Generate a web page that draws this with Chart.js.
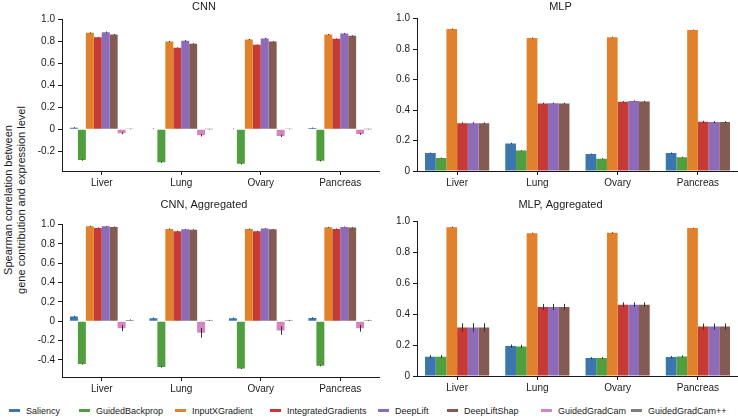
<!DOCTYPE html>
<html>
<head>
<meta charset="utf-8">
<script src="https://cdn.jsdelivr.net/npm/chart.js@4.4.1/dist/chart.umd.min.js"></script>
<style>
  body { margin: 0; background: #fff; font-family: "Liberation Sans", Arial, sans-serif; }
  #wrap { position: relative; width: 738px; height: 419px; overflow: hidden; background: #fff; }
  .panel { position: absolute; }
  #ylabel {
    position: absolute; left: 15px; top: 200px; width: 260px;
    transform: translate(-50%, -50%) rotate(-90deg);
    text-align: center; font-size: 11px; line-height: 13px; color: #1a1a1a;
  }
  .lg { position: absolute; top: 406px; font-size: 9px; color: #1a1a1a; white-space: nowrap; }
  .lg span { display: inline-block; width: 11px; height: 3px; vertical-align: middle; margin-right: 6px; position: relative; top: -1px; }
</style>
</head>
<body>
<div id="wrap">
  <div class="panel" style="left:28px;top:0;width:352px;height:196px"><canvas id="cnn"></canvas></div>
  <div class="panel" style="left:383px;top:0;width:355px;height:196px"><canvas id="mlp"></canvas></div>
  <div class="panel" style="left:28px;top:196px;width:352px;height:206px"><canvas id="cnnAgg"></canvas></div>
  <div class="panel" style="left:383px;top:196px;width:355px;height:205px"><canvas id="mlpAgg"></canvas></div>
  <div id="ylabel">Spearman correlation between<br>gene contribution and expression level</div>
  <div id="legend"></div>
</div>
<script>
const categories = ['Liver', 'Lung', 'Ovary', 'Pancreas'];
const methods = ['Saliency', 'GuidedBackprop', 'InputXGradient', 'IntegratedGradients',
                 'DeepLift', 'DeepLiftShap', 'GuidedGradCam', 'GuidedGradCam++'];
const colors = ['#3b76af', '#519e3e', '#e1812c', '#c43a35', '#8e6bb8', '#845b53', '#d684bd', '#7f7f7f'];

// one row per method, one column per tissue
const cnnValues = [
  [0.015, 0.005, 0.004, 0.012],
  [-0.28, -0.30, -0.315, -0.287],
  [0.879, 0.80, 0.819, 0.864],
  [0.84, 0.743, 0.77, 0.825],
  [0.885, 0.807, 0.828, 0.873],
  [0.864, 0.78, 0.80, 0.852],
  [-0.036, -0.055, -0.06, -0.042],
  [0.003, 0.001, 0.002, 0.001]
];
const cnnErrors = [
  [0.004, 0.003, 0.003, 0.004],
  [0.006, 0.006, 0.006, 0.006],
  [0.005, 0.005, 0.005, 0.005],
  [0.003, 0.003, 0.003, 0.003],
  [0.006, 0.006, 0.006, 0.005],
  [0.004, 0.004, 0.004, 0.004],
  [0.008, 0.01, 0.01, 0.008],
  [0.002, 0.002, 0.002, 0.002]
];

const mlpValues = [
  [0.118, 0.181, 0.111, 0.118],
  [0.085, 0.135, 0.081, 0.09],
  [0.932, 0.873, 0.878, 0.926],
  [0.314, 0.443, 0.454, 0.323],
  [0.314, 0.445, 0.459, 0.321],
  [0.314, 0.443, 0.456, 0.321]
];
const mlpErrors = [
  [0.003, 0.004, 0.003, 0.004],
  [0.003, 0.003, 0.003, 0.003],
  [0.003, 0.003, 0.003, 0.002],
  [0.005, 0.005, 0.004, 0.006],
  [0.006, 0.004, 0.004, 0.006],
  [0.005, 0.005, 0.004, 0.006]
];

const cnnAggValues = [
  [0.048, 0.031, 0.031, 0.034],
  [-0.443, -0.474, -0.49, -0.46],
  [0.983, 0.955, 0.955, 0.972],
  [0.966, 0.931, 0.931, 0.955],
  [0.983, 0.952, 0.959, 0.976],
  [0.976, 0.948, 0.952, 0.969],
  [-0.072, -0.12, -0.096, -0.072],
  [0.014, 0.01, 0.01, 0.01]
];
const cnnAggErrors = [
  [0.008, 0.007, 0.007, 0.007],
  [0.006, 0.006, 0.006, 0.006],
  [0.005, 0.005, 0.005, 0.005],
  [0.005, 0.005, 0.005, 0.005],
  [0.004, 0.004, 0.004, 0.004],
  [0.004, 0.004, 0.004, 0.004],
  [0.03, 0.05, 0.045, 0.035],
  [0.004, 0.004, 0.004, 0.004]
];

const mlpAggValues = [
  [0.125, 0.194, 0.116, 0.123],
  [0.125, 0.191, 0.116, 0.127],
  [0.963, 0.925, 0.927, 0.959],
  [0.314, 0.447, 0.462, 0.32],
  [0.314, 0.447, 0.462, 0.32],
  [0.314, 0.447, 0.462, 0.32]
];
const mlpAggErrors = [
  [0.01, 0.01, 0.006, 0.006],
  [0.01, 0.01, 0.006, 0.006],
  [0.004, 0.003, 0.004, 0.002],
  [0.028, 0.02, 0.015, 0.02],
  [0.028, 0.02, 0.015, 0.02],
  [0.028, 0.02, 0.015, 0.02]
];

const cnnTicks = [-0.2, 0, 0.2, 0.4, 0.6, 0.8, 1.0];
const cnnAggTicks = [-0.4, -0.2, 0, 0.2, 0.4, 0.6, 0.8, 1.0];
const mlpTicks = [0, 0.2, 0.4, 0.6, 0.8, 1.0];

const textColor = '#1a1a1a';
const fontFamily = '"Liberation Sans", Arial, sans-serif';

// vertical error lines at the centre of each bar
const errorBars = {
  id: 'errorBars',
  afterDatasetsDraw(chart) {
    const ctx = chart.ctx;
    const y = chart.scales.y;
    ctx.save();
    ctx.strokeStyle = '#333';
    ctx.lineWidth = 1;
    chart.data.datasets.forEach((ds, i) => {
      chart.getDatasetMeta(i).data.forEach((bar, j) => {
        const v = ds.data[j], e = ds.errors[j];
        if (v == null || !e) return;
        ctx.beginPath();
        ctx.moveTo(Math.round(bar.x) + 0.5, y.getPixelForValue(v - e));
        ctx.lineTo(Math.round(bar.x) + 0.5, y.getPixelForValue(v + e));
        ctx.stroke();
      });
    });
    ctx.restore();
  }
};

function makePanel(id, title, values, errors, yMin, yMax, yTicks, padTop, padBottom) {
  const datasets = values.map((row, i) => ({
    label: methods[i],
    data: row,
    errors: errors[i],
    backgroundColor: colors[i],
    borderWidth: 0,
    categoryPercentage: 0.8,
    barPercentage: 1.0
  }));

  return new Chart(document.getElementById(id), {
    type: 'bar',
    data: { labels: categories, datasets },
    plugins: [errorBars],
    options: {
      responsive: true,
      maintainAspectRatio: false,
      animation: false,
      layout: { padding: 0 },
      plugins: {
        legend: { display: false },
        tooltip: { enabled: false },
        title: {
          display: true, text: title, color: textColor,
          font: { family: fontFamily, size: 11, weight: 'normal' },
          padding: { top: padTop, bottom: padBottom }
        }
      },
      scales: {
        x: {
          afterFit: s => { s.height = 25; },
          grid: { display: true, offset: false, drawOnChartArea: false, drawTicks: true, tickLength: 4, color: textColor },
          border: { display: true, color: textColor, width: 1 },
          ticks: { color: textColor, padding: 2, font: { family: fontFamily, size: 10 } }
        },
        y: {
          min: yMin, max: yMax,
          afterFit: s => { s.width = 34; },
          afterBuildTicks: s => { s.ticks = yTicks.map(v => ({ value: v })); },
          grid: { display: true, drawOnChartArea: false, drawTicks: true, tickLength: 4, color: textColor },
          border: { display: true, color: textColor, width: 1 },
          ticks: {
            color: textColor, padding: 3,
            font: { family: fontFamily, size: 10 },
            callback: v => v === 0 ? '0' : v.toFixed(1)
          }
        }
      }
    }
  });
}

makePanel('cnn', 'CNN', cnnValues, cnnErrors, -0.38, 1.0, cnnTicks, 0, 6.4);
makePanel('mlp', 'MLP', mlpValues, mlpErrors, 0, 1.0, mlpTicks, 0, 5.4);
makePanel('cnnAgg', 'CNN, Aggregated', cnnAggValues, cnnAggErrors, -0.577, 1.0, cnnAggTicks, 2.7, 12.7);
makePanel('mlpAgg', 'MLP, Aggregated', mlpAggValues, mlpAggErrors, 0, 1.0, mlpTicks, 2.7, 9.7);

// legend under the panels
const legendLeft = [9, 79, 175, 270, 378, 447, 541, 631];
const legend = document.getElementById('legend');
methods.forEach((m, i) => {
  const item = document.createElement('div');
  item.className = 'lg';
  item.style.left = legendLeft[i] + 'px';
  item.innerHTML = '<span style="background:' + colors[i] + '"></span>' + m;
  legend.appendChild(item);
});
</script>
</body>
</html>
